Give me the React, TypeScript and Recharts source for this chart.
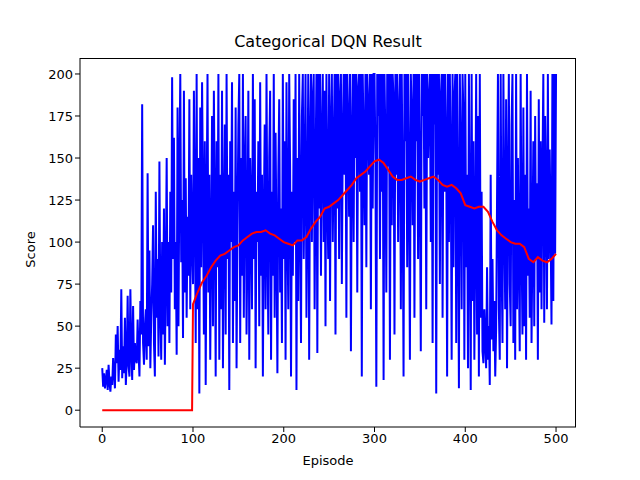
import { LineChart, Line, XAxis, YAxis } from "recharts"

// Score per episode (blue)
const scores = [
  25,14,22,13,18,24,12,27,16,11,20,15,31,22,13,45,28,50,17,36,
  24,72,19,38,22,55,15,30,68,26,20,72,35,18,62,24,40,30,28,54,
  35,20,65,45,182,40,27,50,60,30,141,38,95,25,55,75,110,40,20,130,
  55,90,32,148,60,30,100,45,120,27,80,150,50,100,40,130,70,198,90,162,
  60,100,33,180,50,140,200,88,125,43,190,70,138,55,115,80,185,60,140,100,
  75,190,120,40,200,60,150,10,180,85,195,130,45,160,15,120,200,70,140,30,
  100,175,50,190,120,20,160,85,200,30,140,60,190,25,110,170,45,200,90,140,
  12,160,100,195,40,130,65,180,25,110,170,200,40,150,80,200,55,140,175,45,
  100,190,30,150,120,60,200,90,185,25,130,100,160,50,195,80,140,20,115,170,
  60,200,100,45,150,190,30,130,80,200,55,165,100,22,140,185,70,120,40,200,
  90,160,30,195,110,60,200,145,20,130,80,185,100,200,12,150,65,200,120,40,
  175,200,90,140,200,55,120,200,30,160,200,100,185,200,60,140,200,34,200,120,
  200,80,160,200,100,190,50,200,130,90,200,65,170,200,100,150,200,45,200,120,
  200,90,185,200,75,160,200,140,200,55,200,170,115,200,35,160,200,100,200,150,
  200,70,190,200,130,200,20,200,160,110,200,85,200,180,140,200,60,200,120,200,
  200,150,14,200,175,200,90,200,130,200,18,200,160,70,200,145,200,30,200,110,
  200,185,45,200,140,200,100,175,200,60,200,130,20,200,160,200,85,200,140,30,
  200,175,110,200,55,200,160,200,90,200,140,35,200,175,200,120,200,60,200,150,
  185,200,100,200,40,200,170,200,10,200,140,200,75,185,200,55,200,130,200,160,
  20,200,100,200,150,30,200,85,185,200,40,200,120,13,200,150,60,200,175,30,
  200,85,140,25,200,110,12,200,65,160,30,100,200,45,175,20,200,55,130,35,
  28,60,40,25,85,30,50,15,140,42,90,35,65,20,48,125,200,60,30,200,
  90,40,200,115,60,185,25,130,200,75,50,170,200,40,125,30,200,60,150,90,
  35,200,100,45,180,50,140,30,200,80,120,55,190,40,100,160,50,175,90,135,
  30,185,70,160,60,140,200,52,175,130,60,200,90,155,110,51,200,65,200,93,
  200,
]

// 100-episode moving average (red)
const avgEpisodes = [
  0, 99, 100, 105, 110, 115, 120, 125, 130, 135, 140, 145, 150, 155, 160, 165, 170, 175, 180, 185,
  190, 195, 200, 205, 210, 215, 220, 225, 230, 235, 240, 245, 250, 255, 260, 265, 270, 275, 280, 285,
  290, 295, 300, 305, 310, 315, 320, 325, 330, 335, 340, 345, 350, 355, 360, 365, 370, 375, 380, 385,
  390, 395, 400, 405, 410, 415, 420, 425, 430, 435, 440, 445, 450, 455, 460, 465, 470, 475, 480, 485,
  490, 495, 500,
]
const avgValues = [
  0, 0, 63, 70, 76, 80, 85, 89, 92, 93, 95, 97, 98, 101, 103, 105, 106, 106, 107, 105,
  104, 102, 100, 99, 98, 101, 101, 103, 108, 112, 115, 120, 121, 123, 125, 128, 131, 134, 138, 140,
  142, 145, 148, 149, 147, 143, 139, 137, 137, 138, 139, 137, 136, 137, 138, 139, 137, 134, 133, 134,
  132, 129, 122, 121, 120, 121, 121, 118, 112, 107, 104, 102, 100, 99, 99, 97, 90, 88, 91, 89,
  88, 90, 93,
]

const xTicks = [0, 100, 200, 300, 400, 500]
const yTicks = [0, 25, 50, 75, 100, 125, 150, 175, 200]

const scoreData = scores.map((s, i) => ({ ep: i, score: s }))
const avgData = avgEpisodes.map((e, i) => ({ ep: e, avg: avgValues[i] }))

const font = "DejaVu Sans, sans-serif"
const tick = { fill: "#000", fontSize: 13, fontFamily: font }

export default function App() {
  return (
    <div style={{ position: "absolute", left: 0, top: 0, width: 640, height: 480, background: "#fff", fontFamily: font }}>
      <div style={{ position: "absolute", left: 80, width: 496, top: 32, textAlign: "center", fontSize: 16 }}>
        Categorical DQN Result
      </div>
      <div style={{ position: "absolute", left: 80, width: 496, top: 453, textAlign: "center", fontSize: 13 }}>
        Episode
      </div>
      <div style={{ position: "absolute", left: 12, top: 242, fontSize: 13, transform: "rotate(-90deg)", transformOrigin: "center" }}>
        Score
      </div>
      <LineChart width={640} height={480} margin={{ top: 58, right: 64, bottom: 0, left: 0 }}>
        <XAxis type="number" dataKey="ep" domain={[-24.5, 522]} ticks={xTicks} allowDataOverflow
          tick={tick} stroke="#000" height={53} tickSize={5} />
        <YAxis type="number" domain={[-10, 209.5]} ticks={yTicks} allowDataOverflow
          tick={tick} stroke="#000" width={80} tickSize={5} />
        <Line data={scoreData} dataKey="score" stroke="#0000ff" strokeWidth={2} dot={false}
          isAnimationActive={false} type="linear" />
        <Line data={avgData} dataKey="avg" stroke="#ff0000" strokeWidth={2} dot={false}
          isAnimationActive={false} type="linear" />
      </LineChart>
      {/* top and right spines */}
      <div style={{ position: "absolute", left: 80, top: 58, width: 496, height: 369, borderTop: "1px solid #000", borderRight: "1px solid #000", boxSizing: "border-box", pointerEvents: "none" }} />
    </div>
  )
}
